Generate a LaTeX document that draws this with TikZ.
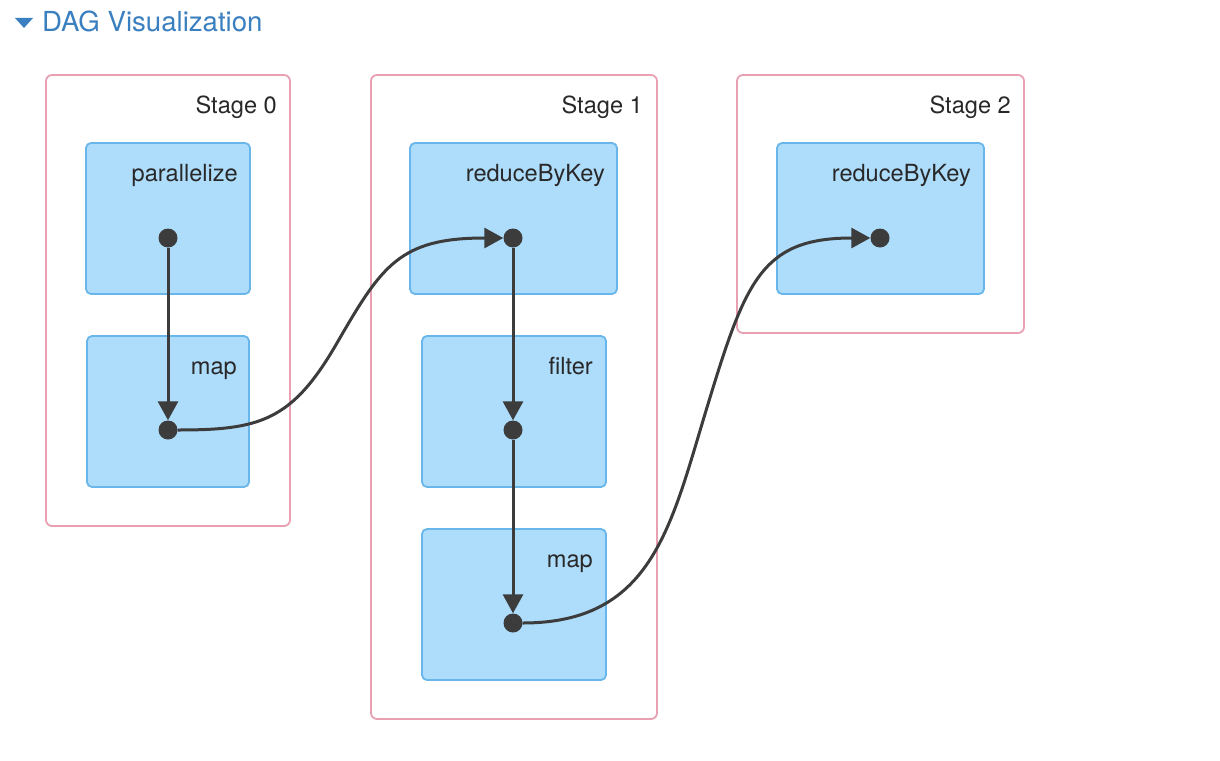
\documentclass[tikz,border=0pt]{standalone}
\usepackage{fontspec}
\setmainfont{TeX Gyre Heros}
\usetikzlibrary{arrows.meta}
\definecolor{stagepink}{RGB}{232,160,178}
\definecolor{opfill}{RGB}{174,220,251}
\definecolor{opline}{RGB}{104,182,234}
\definecolor{edgegray}{RGB}{60,60,60}
\definecolor{titleblue}{RGB}{58,128,192}
\definecolor{labelgray}{RGB}{40,40,40}
\tikzset{
  stagebox/.style={draw=stagepink, line width=1.8pt, rounded corners=6pt, fill=white},
  opbox/.style={draw=opline, line width=1.8pt, rounded corners=5pt, fill=opfill},
  lbl/.style={anchor=base east, inner sep=0pt, text=labelgray, font=\fontsize{23.6}{28}\selectfont},
  rdd/.style={circle, fill=edgegray, minimum size=19pt, inner sep=0pt},
  arr/.style={draw=edgegray, line width=3pt, -{Triangle[length=19pt,width=20pt]}},
}
\begin{document}
\begin{tikzpicture}[x=1pt,y=-1pt]
\useasboundingbox (0,0) rectangle (1220,760);
\fill[white] (0,0) rectangle (1220,760);

% header
\fill[titleblue] (15,18) -- (33,18) -- (24,28) -- cycle;
\node[anchor=base west, inner sep=0pt, text=titleblue, font=\fontsize{27.6}{32}\selectfont] (title) at (42,32) {DAG Visualization};

% stages
\draw[stagebox] (46,75) rectangle (290,526);
\draw[stagebox] (371,75) rectangle (657,719);
\draw[stagebox] (737,75) rectangle (1024,333);
\node[lbl] (s0) at (277,113) {Stage 0};
\node[lbl] (s1) at (643,113) {Stage 1};
\node[lbl] (s2) at (1011,113) {Stage 2};

% operation boxes
\draw[opbox] (86,143) rectangle (250,294);
\draw[opbox] (87,336) rectangle (249,487);
\draw[opbox] (410,143) rectangle (617,294);
\draw[opbox] (422,336) rectangle (606,487);
\draw[opbox] (422,529) rectangle (606,680);
\draw[opbox] (777,143) rectangle (984,294);
\node[lbl] (l1) at (238,181) {parallelize};
\node[lbl] (l2) at (237,374) {map};
\node[lbl] (l3) at (605,181) {reduceByKey};
\node[lbl] (l4) at (593,374) {filter};
\node[lbl] (l5) at (593,567) {map};
\node[lbl] (l6) at (971,181) {reduceByKey};

% RDD dots
\node[rdd] (p0) at (168,238) {};
\node[rdd] (m0) at (168,430) {};
\node[rdd] (r1) at (513,238) {};
\node[rdd] (f1) at (513,430) {};
\node[rdd] (m1) at (513,623) {};
\node[rdd] (r2) at (880,238) {};

% edges
\draw[arr] (p0) -- (m0);
\draw[arr] (r1) -- (f1);
\draw[arr] (f1) -- (m1);
\draw[arr] (m0.east) .. controls (260,430) and (292,421) .. (337,343)
                     .. controls (382,265) and (400,238) .. (r1.west);
\draw[arr] (m1.east) .. controls (650,623) and (670,530) .. (705,414)
                     .. controls (745,282) and (760,238) .. (r2.west);
\end{tikzpicture}
\end{document}
